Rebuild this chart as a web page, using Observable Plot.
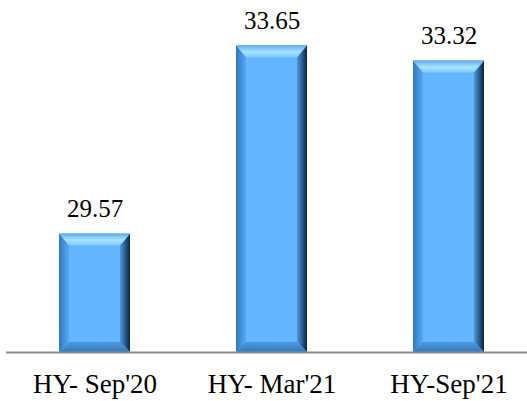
<!DOCTYPE html>
<html>
<head>
<meta charset="utf-8">
<script src="https://cdn.jsdelivr.net/npm/d3@7"></script>
<script src="https://cdn.jsdelivr.net/npm/@observablehq/plot@0.6"></script>
<style>
  html, body { margin: 0; padding: 0; background: #fff; }
</style>
</head>
<body>
<div id="chart"></div>
<script>
const categories = ["HY- Sep'20", "HY- Mar'21", "HY-Sep'21"];
const values = [29.57, 33.65, 33.32];
const labels = ["29.57", "33.65", "33.32"];

const data = categories.map((c, i) => ({category: c, value: values[i], label: labels[i]}));

const chart = Plot.plot({
  width: 527,
  height: 401,
  marginTop: 6,
  marginBottom: 49,
  marginLeft: 6,
  marginRight: 0,
  style: {fontFamily: "Liberation Serif", fontSize: "25px", color: "#000", background: "#fff"},
  x: {domain: categories, range: [6, 537], paddingInner: 0.6, paddingOuter: 0.3},
  y: {domain: [27, 34.5], axis: null},
  marks: [
    Plot.barY(data, {x: "category", y1: 27, y2: "value", fill: "#63b6fd"}),
    Plot.ruleY([27], {stroke: "#8c8c8c", strokeWidth: 2}),
    Plot.text(data, {x: "category", y: "value", text: "label", dy: -17, lineAnchor: "bottom", fontSize: 25, fill: "#000", fontFamily: "Liberation Serif"}),
    Plot.axisX({tickSize: 0, tickPadding: 21, fontSize: 27, label: null, fontFamily: "Liberation Serif"})
  ]
});

document.getElementById("chart").appendChild(chart);

// Bevel decoration derived from the rendered bar geometry
const svg = d3.select(chart);
const defs = svg.insert("defs", ":first-child");
function grad(id, x1, y1, x2, y2, stops) {
  const g = defs.append("linearGradient").attr("id", id)
    .attr("x1", x1).attr("y1", y1).attr("x2", x2).attr("y2", y2);
  stops.forEach(([o, c]) => g.append("stop").attr("offset", o).attr("stop-color", c));
}
grad("gLeft", 0, 0, 1, 0, [[0, "#2f78bf"], [1, "#57a9f3"]]);
grad("gRight", 0, 0, 1, 0, [[0, "#4d97d8"], [0.5, "#2a5f92"], [1, "#0c2440"]]);
grad("gTop", 0, 0, 0, 1, [[0, "#5aa9ee"], [0.55, "#a9e2ff"], [1, "#80c8ff"]]);
grad("gBottom", 0, 0, 0, 1, [[0, "#4d98dc"], [1, "#3479bc"]]);

const barGroup = svg.select("g[aria-label='bar']");
const bev = svg.insert("g", "g[aria-label='rule']").attr("class", "bevels");
const b = 10, bt = 12;
barGroup.selectAll("rect").each(function() {
  const r = d3.select(this);
  const x = +r.attr("x"), y = +r.attr("y"), w = +r.attr("width"), h = +r.attr("height");
  const poly = (pts, fill) => bev.append("polygon").attr("points", pts.map(p => p.join(",")).join(" ")).attr("fill", fill);
  poly([[x, y], [x + b, y + bt], [x + b, y + h - b], [x, y + h]], "url(#gLeft)");
  poly([[x + w, y], [x + w - b, y + bt], [x + w - b, y + h - b], [x + w, y + h]], "url(#gRight)");
  poly([[x, y], [x + w, y], [x + w - b, y + bt], [x + b, y + bt]], "url(#gTop)");
  poly([[x, y + h], [x + w, y + h], [x + w - b, y + h - b], [x + b, y + h - b]], "url(#gBottom)");
});
</script>
</body>
</html>
